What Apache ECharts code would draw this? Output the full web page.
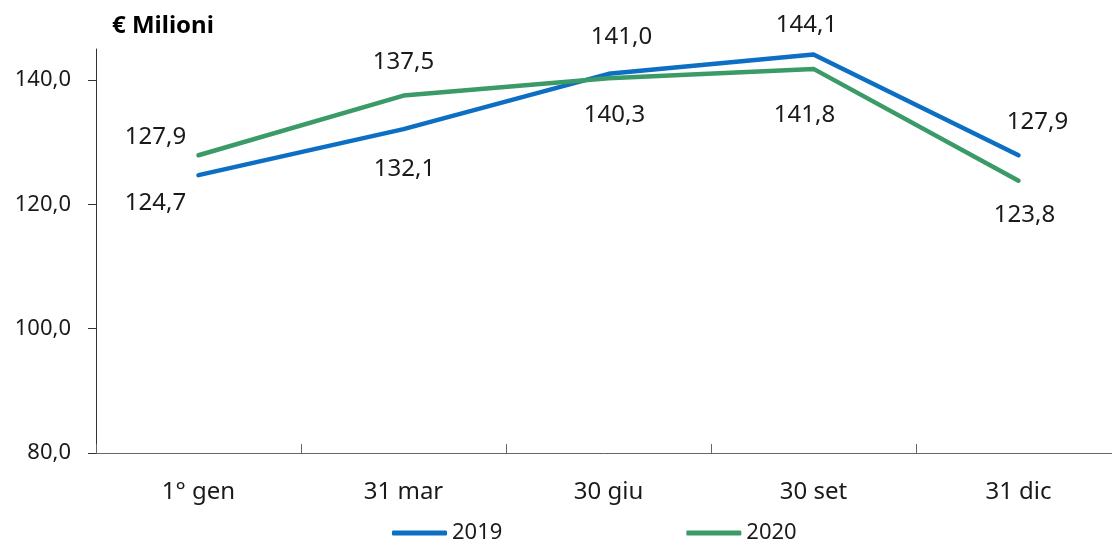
<!DOCTYPE html>
<html>
<head>
<meta charset="utf-8">
<title>€ Milioni</title>
<script src="https://cdn.jsdelivr.net/npm/echarts@6/dist/echarts.min.js"></script>
<style>
  html, body { margin: 0; padding: 0; background: #ffffff; }
  #chart { width: 1112px; height: 541px; }
</style>
</head>
<body>
<div id="chart"></div>
<script>
// Quarter-end values, € millions
const categories = ['1° gen', '31 mar', '30 giu', '30 set', '31 dic'];
const values2019 = [124.7, 132.1, 141.0, 144.1, 127.9];
const values2020 = [127.9, 137.5, 140.3, 141.8, 123.8];
const yTicks = [80, 100, 120, 140];
const seriesNames = ['2019', '2020'];

const FONT = '"Noto Sans", "Open Sans", sans-serif';
const TEXT = '#1a1a1a';
const BLUE = '#0d6fc4';
const GREEN = '#3a9a68';

// Where each value label sits relative to its point (dx, dy in px)
const labelShift2019 = [[-43, 28], [1, 40], [13, -37], [-7, -29], [19, -33]];
const labelShift2020 = [[-43, -18], [0, -33], [6, 37], [-9, 46], [6, 34]];

const fmt = v => v.toFixed(1).replace('.', ',');

function buildSeries(name, values, shifts, color) {
  return {
    name: name,
    type: 'line',
    data: values.map((v, i) => ({
      value: v,
      label: { offset: shifts[i] }
    })),
    symbol: 'circle',
    symbolSize: 1,
    showSymbol: true,
    itemStyle: { color: color },
    lineStyle: { color: color, width: 4.5, cap: 'round', join: 'round' },
    label: {
      show: true,
      position: 'inside',
      align: 'center',
      verticalAlign: 'middle',
      formatter: p => fmt(p.value),
      fontFamily: FONT,
      fontSize: 24,
      color: TEXT
    },
    emphasis: { disabled: true },
    animation: false
  };
}

const chart = echarts.init(document.getElementById('chart'), null, { renderer: 'canvas' });
chart.setOption({
  backgroundColor: '#ffffff',
  animation: false,
  title: {
    text: '€ Milioni',
    left: 112,
    top: 14,
    padding: 0,
    textStyle: { fontFamily: FONT, fontSize: 24, fontWeight: 'bold', color: '#000' }
  },
  // the plot runs slightly past the right edge of the canvas
  grid: {
    left: 96, right: -9, top: 49, bottom: 88,
    containLabel: false,
    outerBoundsMode: 'none'
  },
  legend: {
    data: seriesNames,
    left: 392,
    top: 522,
    padding: 0,
    itemWidth: 55,
    itemHeight: 5,
    itemGap: 184,
    icon: 'roundRect',
    textStyle: { fontFamily: FONT, fontSize: 22, color: TEXT },
    selectedMode: false
  },
  xAxis: {
    type: 'category',
    data: categories,
    boundaryGap: true,
    axisLine: { lineStyle: { color: '#666', width: 1 } },
    axisTick: { show: true, inside: true, length: 9, lineStyle: { color: '#666' } },
    axisLabel: { fontFamily: FONT, fontSize: 24, color: TEXT, margin: 27 },
    splitLine: { show: false }
  },
  yAxis: {
    type: 'value',
    min: 80,
    max: 145,
    interval: 20,
    axisLine: { show: true, lineStyle: { color: '#333', width: 1 } },
    axisTick: { show: true, length: 8, customValues: yTicks, lineStyle: { color: '#333' } },
    axisLabel: {
      customValues: yTicks,
      formatter: v => fmt(v),
      fontFamily: FONT,
      fontSize: 22,
      color: TEXT,
      margin: 25
    },
    splitLine: { show: false }
  },
  series: [
    buildSeries(seriesNames[0], values2019, labelShift2019, BLUE),
    buildSeries(seriesNames[1], values2020, labelShift2020, GREEN)
  ]
});
</script>
</body>
</html>
